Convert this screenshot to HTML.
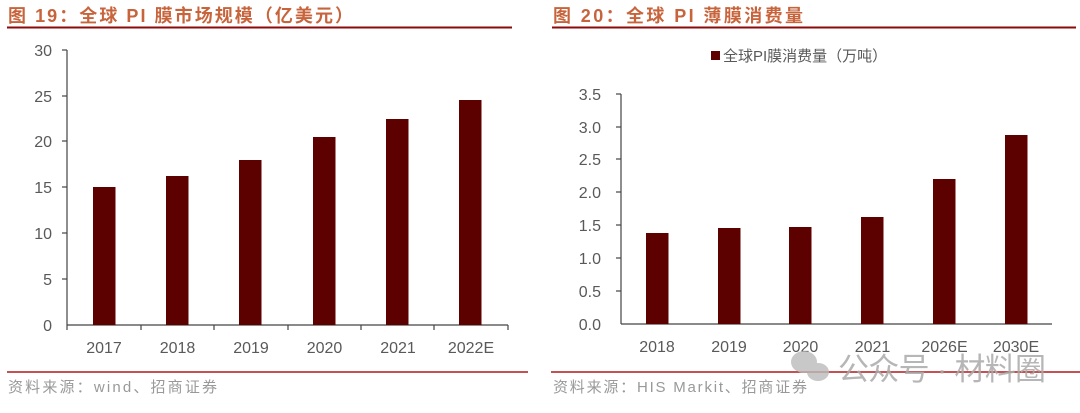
<!DOCTYPE html>
<html><head><meta charset="utf-8"><style>
body{margin:0;background:#fff;width:1080px;height:408px;overflow:hidden}
text{font-family:"Liberation Sans","Noto Sans CJK SC",sans-serif}
</style></head><body>
<svg width="1080" height="408" xmlns="http://www.w3.org/2000/svg">
<g font-weight="bold" fill="#c8643c" font-size="18">
<text x="8" y="22" textLength="345" lengthAdjust="spacing">图 19：全球 PI 膜市场规模（亿美元）</text>
<text x="553" y="22" textLength="250" lengthAdjust="spacing">图 20：全球 PI 薄膜消费量</text>
</g>
<line x1="7" y1="27.5" x2="512" y2="27.5" stroke="#8b0a0a" stroke-width="2"/>
<line x1="552" y1="27.5" x2="1076" y2="27.5" stroke="#8b0a0a" stroke-width="2"/>
<line x1="7" y1="372" x2="528" y2="372" stroke="#b01818" stroke-width="1.5"/>
<line x1="551" y1="372" x2="1080" y2="372" stroke="#b01818" stroke-width="1.5"/>
<g fill="#999" font-size="15">
<text x="8" y="392" textLength="209" lengthAdjust="spacing">资料来源：wind、招商证券</text>
<text x="553" y="392" textLength="254" lengthAdjust="spacing">资料来源：HIS Markit、招商证券</text>
</g>
<g fill="#595959" font-size="16" text-anchor="end">
<text x="52" y="56">30</text><text x="52" y="102">25</text><text x="52" y="147">20</text>
<text x="52" y="193">15</text><text x="52" y="239">10</text><text x="52" y="285">5</text><text x="52" y="331">0</text>
</g>
<g stroke="#444" stroke-width="1.2">
<line x1="67" y1="50" x2="67" y2="325"/>
<line x1="67" y1="325" x2="508" y2="325"/>
<line x1="62" y1="50" x2="67" y2="50"/><line x1="62" y1="96" x2="67" y2="96"/><line x1="62" y1="141" x2="67" y2="141"/><line x1="62" y1="187" x2="67" y2="187"/><line x1="62" y1="233" x2="67" y2="233"/><line x1="62" y1="279" x2="67" y2="279"/>
<line x1="67" y1="325" x2="67" y2="330"/><line x1="141" y1="325" x2="141" y2="330"/><line x1="214" y1="325" x2="214" y2="330"/><line x1="288" y1="325" x2="288" y2="330"/><line x1="361" y1="325" x2="361" y2="330"/><line x1="434" y1="325" x2="434" y2="330"/><line x1="508" y1="325" x2="508" y2="330"/>
</g>
<g fill="#5c0000">
<rect x="93" y="187" width="22.5" height="138"/>
<rect x="166" y="176" width="22.5" height="149"/>
<rect x="239" y="160" width="22.5" height="165"/>
<rect x="313" y="137" width="22.5" height="188"/>
<rect x="386" y="119" width="22.5" height="206"/>
<rect x="459" y="100" width="22.5" height="225"/>
</g>
<g fill="#595959" font-size="16" text-anchor="middle">
<text x="104" y="353">2017</text><text x="177.5" y="353">2018</text><text x="251" y="353">2019</text>
<text x="324.5" y="353">2020</text><text x="398" y="353">2021</text><text x="471" y="353">2022E</text>
</g>
<rect x="711" y="51" width="9" height="9" fill="#5c0000"/>
<text x="723" y="61" fill="#595959" font-size="15">全球PI膜消费量（万吨）</text>
<g fill="#595959" font-size="16" text-anchor="end">
<text x="601" y="100">3.5</text><text x="601" y="133">3.0</text><text x="601" y="165">2.5</text><text x="601" y="198">2.0</text>
<text x="601" y="231">1.5</text><text x="601" y="264">1.0</text><text x="601" y="297">0.5</text><text x="601" y="330">0.0</text>
</g>
<g stroke="#444" stroke-width="1.2">
<line x1="621" y1="94" x2="621" y2="324"/>
<line x1="621" y1="324" x2="1052" y2="324"/>
<line x1="616" y1="94" x2="621" y2="94"/><line x1="616" y1="127" x2="621" y2="127"/><line x1="616" y1="159" x2="621" y2="159"/><line x1="616" y1="192" x2="621" y2="192"/><line x1="616" y1="225" x2="621" y2="225"/><line x1="616" y1="258" x2="621" y2="258"/><line x1="616" y1="291" x2="621" y2="291"/>
</g>
<g fill="#5c0000">
<rect x="646" y="233" width="22.5" height="91"/>
<rect x="718" y="228" width="22.5" height="96"/>
<rect x="789" y="227" width="22.5" height="97"/>
<rect x="861" y="217" width="22.5" height="107"/>
<rect x="933" y="179" width="22.5" height="145"/>
<rect x="1005" y="135" width="22.5" height="189"/>
</g>
<g fill="#595959" font-size="16" text-anchor="middle">
<text x="657" y="352">2018</text><text x="729" y="352">2019</text><text x="800.5" y="352">2020</text>
<text x="872.5" y="352">2021</text><text x="944.5" y="352">2026E</text><text x="1016" y="352">2030E</text>
</g>
<g fill="#bbb" opacity="0.8">
<ellipse cx="804" cy="362" rx="13" ry="11"/><ellipse cx="818" cy="372" rx="11" ry="9"/>
</g>
<text x="838" y="380" fill="#aaa" font-size="31" opacity="0.85" textLength="208" lengthAdjust="spacing">公众号 · 材料圈</text>
</svg>
</body></html>
